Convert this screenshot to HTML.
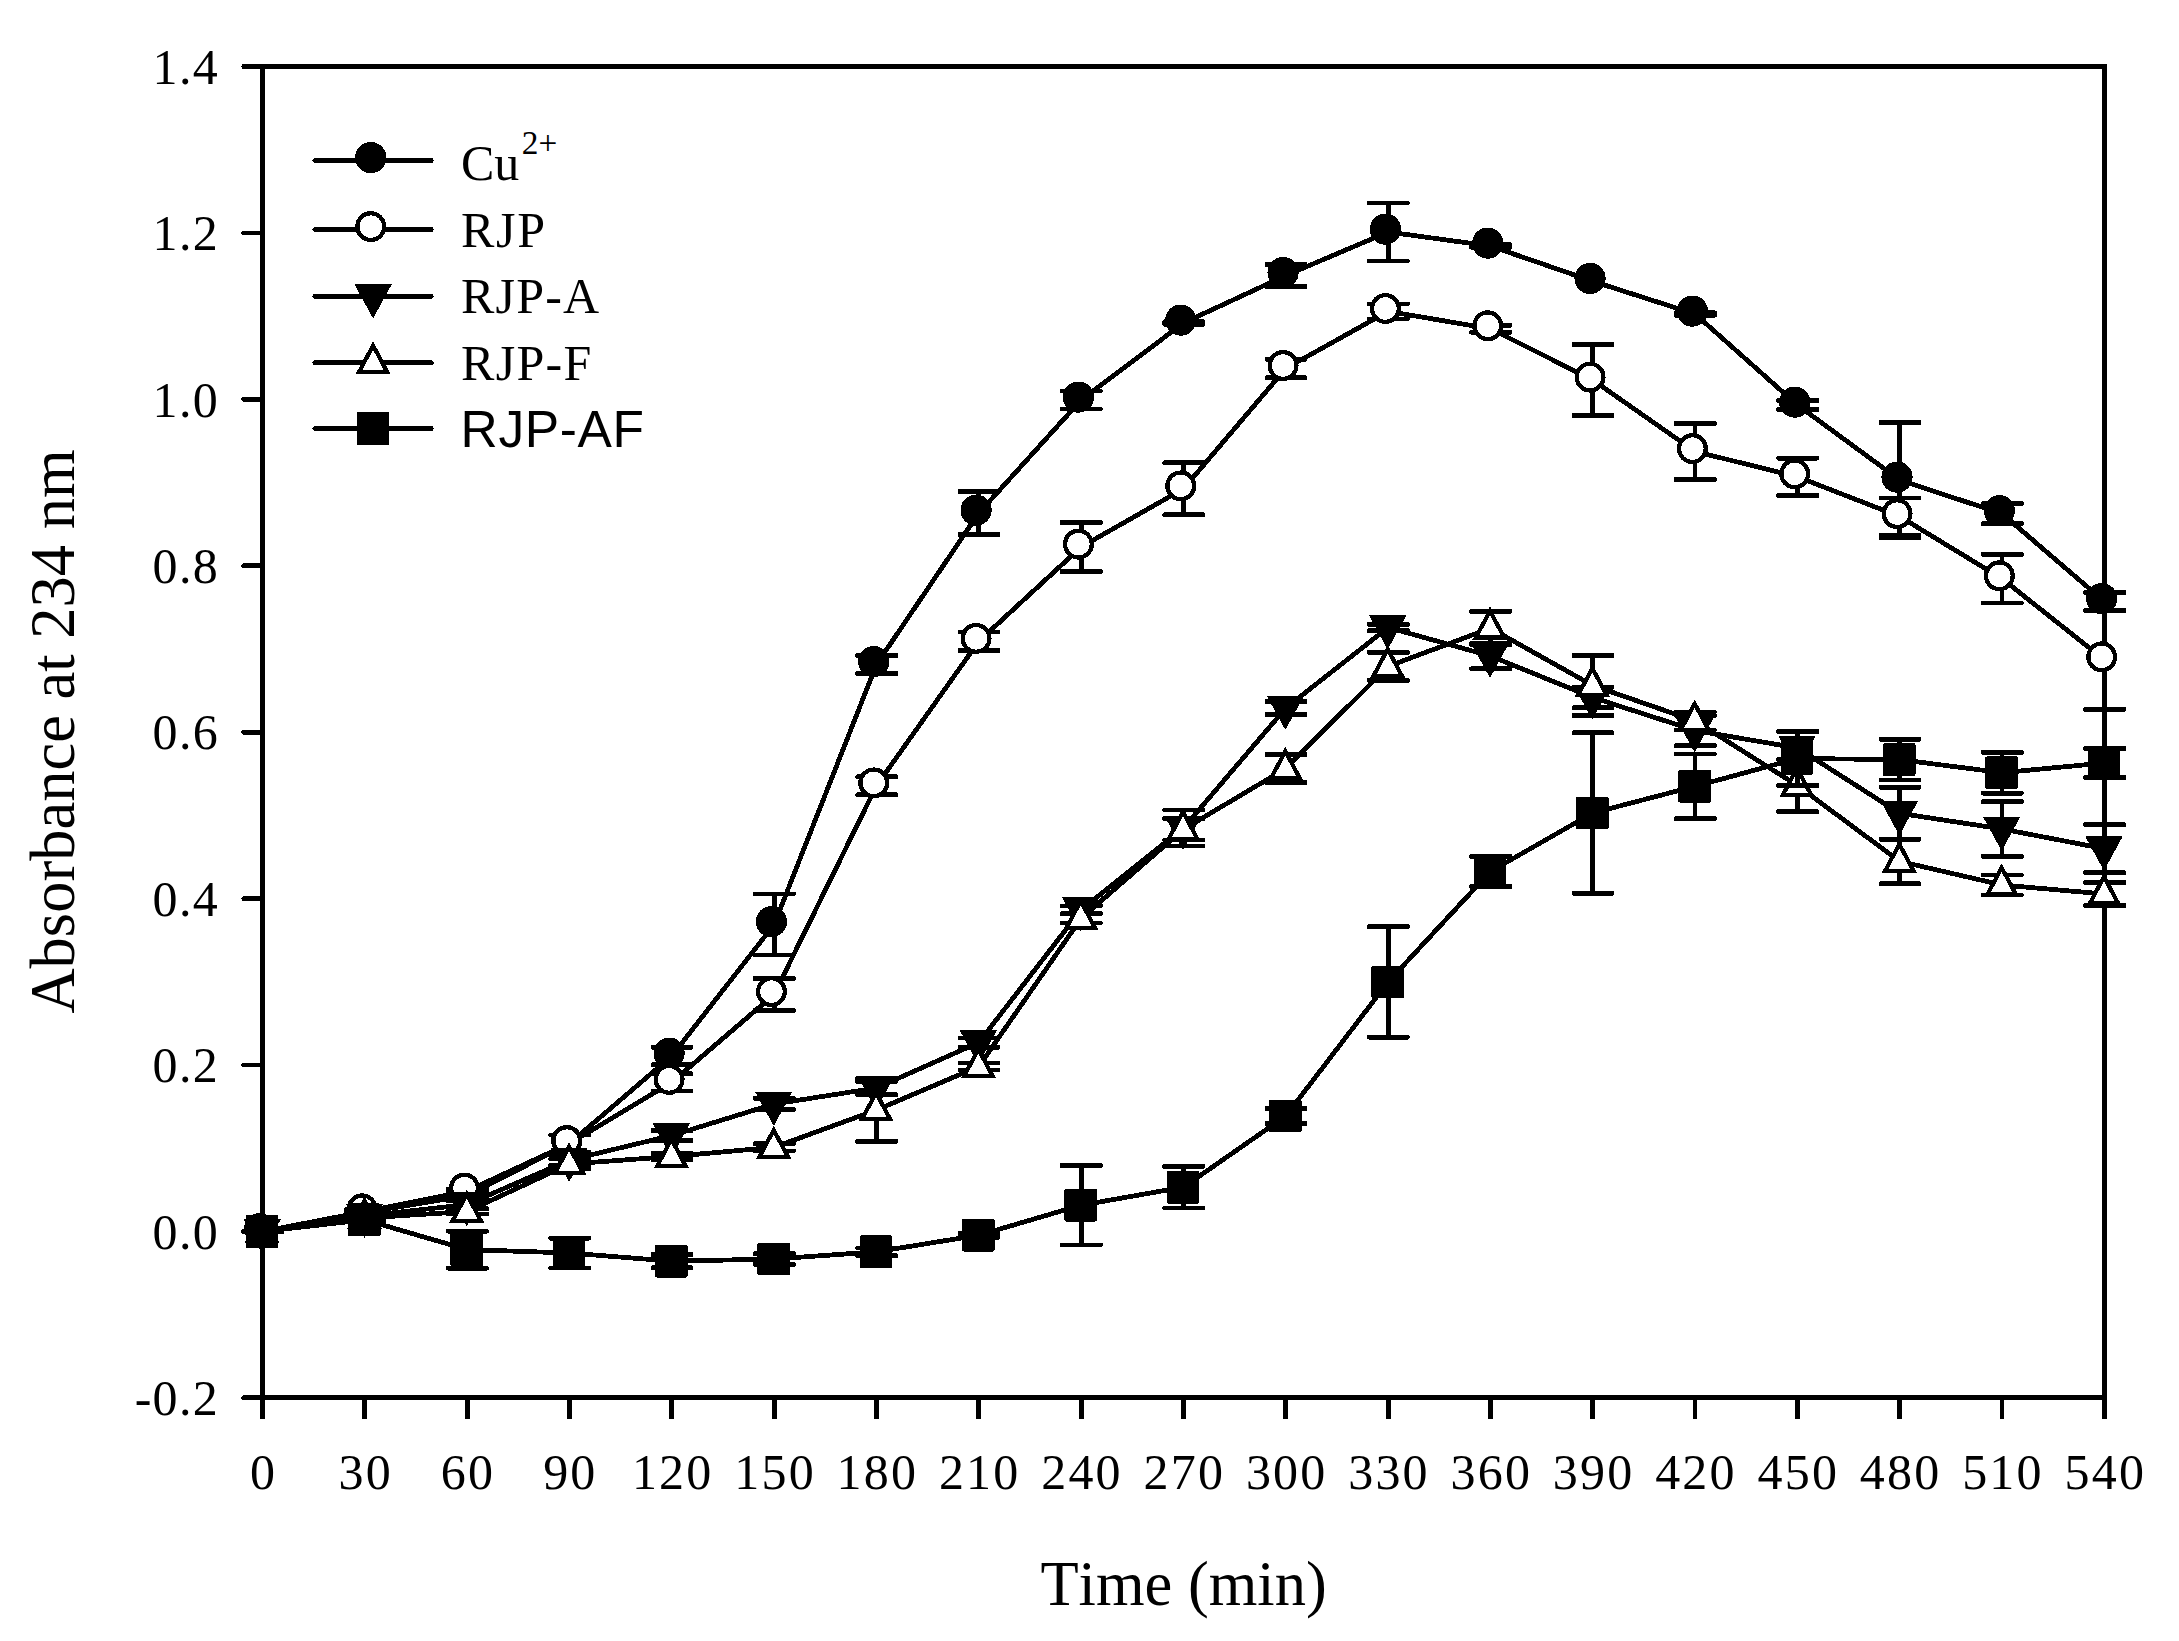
<!DOCTYPE html>
<html lang="en"><head><meta charset="utf-8"><title>Absorbance at 234 nm vs Time</title>
<style>html,body{margin:0;padding:0;background:#fff}svg{display:block}</style></head>
<body>
<svg width="2179" height="1641" viewBox="0 0 2179 1641">
<rect width="2179" height="1641" fill="#fff"/>
<g shape-rendering="crispEdges" fill="#000" font-family="'Liberation Serif', serif" style="font-kerning:none">
<g stroke="#000" stroke-width="4.8" fill="none" stroke-linecap="round">
<path d="M262.5 66.5 V1397.8 M262.5 66.5 H2104.4 M2104.4 66.5 V1397.8 M262.5 1397.8 H2104.4" stroke-linecap="square"/>
<line x1="243.6" y1="66.5" x2="262.5" y2="66.5"/>
<line x1="243.6" y1="232.91" x2="262.5" y2="232.91"/>
<line x1="243.6" y1="399.32" x2="262.5" y2="399.32"/>
<line x1="243.6" y1="565.74" x2="262.5" y2="565.74"/>
<line x1="243.6" y1="732.15" x2="262.5" y2="732.15"/>
<line x1="243.6" y1="898.56" x2="262.5" y2="898.56"/>
<line x1="243.6" y1="1064.97" x2="262.5" y2="1064.97"/>
<line x1="243.6" y1="1231.39" x2="262.5" y2="1231.39"/>
<line x1="243.6" y1="1397.8" x2="262.5" y2="1397.8"/>
<line x1="262.5" y1="1397.8" x2="262.5" y2="1418.6" stroke-linecap="butt"/>
<line x1="364.83" y1="1397.8" x2="364.83" y2="1418.6" stroke-linecap="butt"/>
<line x1="467.16" y1="1397.8" x2="467.16" y2="1418.6" stroke-linecap="butt"/>
<line x1="569.48" y1="1397.8" x2="569.48" y2="1418.6" stroke-linecap="butt"/>
<line x1="671.81" y1="1397.8" x2="671.81" y2="1418.6" stroke-linecap="butt"/>
<line x1="774.14" y1="1397.8" x2="774.14" y2="1418.6" stroke-linecap="butt"/>
<line x1="876.47" y1="1397.8" x2="876.47" y2="1418.6" stroke-linecap="butt"/>
<line x1="978.79" y1="1397.8" x2="978.79" y2="1418.6" stroke-linecap="butt"/>
<line x1="1081.12" y1="1397.8" x2="1081.12" y2="1418.6" stroke-linecap="butt"/>
<line x1="1183.45" y1="1397.8" x2="1183.45" y2="1418.6" stroke-linecap="butt"/>
<line x1="1285.78" y1="1397.8" x2="1285.78" y2="1418.6" stroke-linecap="butt"/>
<line x1="1388.11" y1="1397.8" x2="1388.11" y2="1418.6" stroke-linecap="butt"/>
<line x1="1490.43" y1="1397.8" x2="1490.43" y2="1418.6" stroke-linecap="butt"/>
<line x1="1592.76" y1="1397.8" x2="1592.76" y2="1418.6" stroke-linecap="butt"/>
<line x1="1695.09" y1="1397.8" x2="1695.09" y2="1418.6" stroke-linecap="butt"/>
<line x1="1797.42" y1="1397.8" x2="1797.42" y2="1418.6" stroke-linecap="butt"/>
<line x1="1899.74" y1="1397.8" x2="1899.74" y2="1418.6" stroke-linecap="butt"/>
<line x1="2002.07" y1="1397.8" x2="2002.07" y2="1418.6" stroke-linecap="butt"/>
<line x1="2104.4" y1="1397.8" x2="2104.4" y2="1418.6" stroke-linecap="butt"/>
</g>
<polyline points="262.5,1231.5 364.83,1212.5 467.16,1195.5 569.48,1143.5 671.81,1056 774.14,924.5 876.47,664.5 978.79,513.05 1081.12,400 1183.45,323 1285.78,275.5 1388.11,232 1490.43,246 1592.76,281.3 1695.09,314 1797.42,405 1899.74,480 2002.07,513.7 2104.4,601.5" fill="none" stroke="#000" stroke-width="4.8" stroke-linejoin="round"/>
<rect x="241.4" y="1229.1" width="42.7" height="4.8" rx="1.6"/>
<rect x="362.43" y="1210.5" width="4.8" height="4"/>
<rect x="343.73" y="1208.1" width="42.7" height="4.8" rx="1.6"/>
<rect x="343.73" y="1212.1" width="42.7" height="4.8" rx="1.6"/>
<rect x="464.76" y="1193.5" width="4.8" height="4"/>
<rect x="446.06" y="1191.1" width="42.7" height="4.8" rx="1.6"/>
<rect x="446.06" y="1195.1" width="42.7" height="4.8" rx="1.6"/>
<rect x="567.08" y="1134.9" width="4.8" height="17.2"/>
<rect x="548.38" y="1132.5" width="42.7" height="4.8" rx="1.6"/>
<rect x="548.38" y="1149.7" width="42.7" height="4.8" rx="1.6"/>
<rect x="669.41" y="1047.3" width="4.8" height="17.4"/>
<rect x="650.71" y="1044.9" width="42.7" height="4.8" rx="1.6"/>
<rect x="650.71" y="1062.3" width="42.7" height="4.8" rx="1.6"/>
<rect x="771.74" y="894" width="4.8" height="61"/>
<rect x="753.04" y="891.6" width="42.7" height="4.8" rx="1.6"/>
<rect x="753.04" y="952.6" width="42.7" height="4.8" rx="1.6"/>
<rect x="874.07" y="655.5" width="4.8" height="18"/>
<rect x="855.37" y="653.1" width="42.7" height="4.8" rx="1.6"/>
<rect x="855.37" y="671.1" width="42.7" height="4.8" rx="1.6"/>
<rect x="976.39" y="491.6" width="4.8" height="42.9"/>
<rect x="957.69" y="489.2" width="42.7" height="4.8" rx="1.6"/>
<rect x="957.69" y="532.1" width="42.7" height="4.8" rx="1.6"/>
<rect x="1078.72" y="391" width="4.8" height="18"/>
<rect x="1060.02" y="388.6" width="42.7" height="4.8" rx="1.6"/>
<rect x="1060.02" y="406.6" width="42.7" height="4.8" rx="1.6"/>
<rect x="1181.05" y="321.8" width="4.8" height="2.4"/>
<rect x="1162.35" y="319.4" width="42.7" height="4.8" rx="1.6"/>
<rect x="1162.35" y="321.8" width="42.7" height="4.8" rx="1.6"/>
<rect x="1283.38" y="264.5" width="4.8" height="22"/>
<rect x="1264.68" y="262.1" width="42.7" height="4.8" rx="1.6"/>
<rect x="1264.68" y="284.1" width="42.7" height="4.8" rx="1.6"/>
<rect x="1385.71" y="203" width="4.8" height="58"/>
<rect x="1367.01" y="200.6" width="42.7" height="4.8" rx="1.6"/>
<rect x="1367.01" y="258.6" width="42.7" height="4.8" rx="1.6"/>
<rect x="1488.03" y="244.8" width="4.8" height="2.4"/>
<rect x="1469.33" y="242.4" width="42.7" height="4.8" rx="1.6"/>
<rect x="1469.33" y="244.8" width="42.7" height="4.8" rx="1.6"/>
<rect x="1692.69" y="312.8" width="4.8" height="2.4"/>
<rect x="1673.99" y="310.4" width="42.7" height="4.8" rx="1.6"/>
<rect x="1673.99" y="312.8" width="42.7" height="4.8" rx="1.6"/>
<rect x="1795.02" y="400.5" width="4.8" height="9"/>
<rect x="1776.32" y="398.1" width="42.7" height="4.8" rx="1.6"/>
<rect x="1776.32" y="407.1" width="42.7" height="4.8" rx="1.6"/>
<rect x="1897.34" y="422.6" width="4.8" height="114.8"/>
<rect x="1878.64" y="420.2" width="42.7" height="4.8" rx="1.6"/>
<rect x="1878.64" y="535" width="42.7" height="4.8" rx="1.6"/>
<rect x="1999.67" y="503.7" width="4.8" height="20"/>
<rect x="1980.97" y="501.3" width="42.7" height="4.8" rx="1.6"/>
<rect x="1980.97" y="521.3" width="42.7" height="4.8" rx="1.6"/>
<rect x="2102" y="592.5" width="4.8" height="18"/>
<rect x="2083.3" y="590.1" width="42.7" height="4.8" rx="1.6"/>
<rect x="2083.3" y="608.1" width="42.7" height="4.8" rx="1.6"/>
<circle cx="259.8" cy="1228.6" r="15.6"/>
<circle cx="362.13" cy="1209.6" r="15.6"/>
<circle cx="464.46" cy="1192.6" r="15.6"/>
<circle cx="566.78" cy="1140.6" r="15.6"/>
<circle cx="669.11" cy="1053.1" r="15.6"/>
<circle cx="771.44" cy="921.6" r="15.6"/>
<circle cx="873.77" cy="661.6" r="15.6"/>
<circle cx="976.09" cy="510.15" r="15.6"/>
<circle cx="1078.42" cy="397.1" r="15.6"/>
<circle cx="1180.75" cy="320.1" r="15.6"/>
<circle cx="1283.08" cy="272.6" r="15.6"/>
<circle cx="1385.41" cy="229.1" r="15.6"/>
<circle cx="1487.73" cy="243.1" r="15.6"/>
<circle cx="1590.06" cy="278.4" r="15.6"/>
<circle cx="1692.39" cy="311.1" r="15.6"/>
<circle cx="1794.72" cy="402.1" r="15.6"/>
<circle cx="1897.04" cy="477.1" r="15.6"/>
<circle cx="1999.37" cy="510.8" r="15.6"/>
<circle cx="2101.7" cy="598.6" r="15.6"/>
<polyline points="262.5,1231.5 364.83,1211.7 467.16,1191 569.48,1143.5 671.81,1082.3 774.14,994.5 876.47,785.8 978.79,641.3 1081.12,547 1183.45,488.8 1285.78,368.4 1388.11,311.4 1490.43,328.7 1592.76,380 1695.09,451.5 1797.42,476.8 1899.74,516.5 2002.07,578.7 2104.4,659.8" fill="none" stroke="#000" stroke-width="4.8" stroke-linejoin="round"/>
<rect x="241.4" y="1229.1" width="42.7" height="4.8" rx="1.6"/>
<rect x="362.43" y="1209.7" width="4.8" height="4"/>
<rect x="343.73" y="1207.3" width="42.7" height="4.8" rx="1.6"/>
<rect x="343.73" y="1211.3" width="42.7" height="4.8" rx="1.6"/>
<rect x="464.76" y="1189" width="4.8" height="4"/>
<rect x="446.06" y="1186.6" width="42.7" height="4.8" rx="1.6"/>
<rect x="446.06" y="1190.6" width="42.7" height="4.8" rx="1.6"/>
<rect x="567.08" y="1134.9" width="4.8" height="17.2"/>
<rect x="548.38" y="1132.5" width="42.7" height="4.8" rx="1.6"/>
<rect x="548.38" y="1149.7" width="42.7" height="4.8" rx="1.6"/>
<rect x="669.41" y="1073.7" width="4.8" height="17.2"/>
<rect x="650.71" y="1071.3" width="42.7" height="4.8" rx="1.6"/>
<rect x="650.71" y="1088.5" width="42.7" height="4.8" rx="1.6"/>
<rect x="771.74" y="978.5" width="4.8" height="32"/>
<rect x="753.04" y="976.1" width="42.7" height="4.8" rx="1.6"/>
<rect x="753.04" y="1008.1" width="42.7" height="4.8" rx="1.6"/>
<rect x="874.07" y="776.8" width="4.8" height="18"/>
<rect x="855.37" y="774.4" width="42.7" height="4.8" rx="1.6"/>
<rect x="855.37" y="792.4" width="42.7" height="4.8" rx="1.6"/>
<rect x="976.39" y="632" width="4.8" height="18.6"/>
<rect x="957.69" y="629.6" width="42.7" height="4.8" rx="1.6"/>
<rect x="957.69" y="648.2" width="42.7" height="4.8" rx="1.6"/>
<rect x="1078.72" y="522.5" width="4.8" height="49"/>
<rect x="1060.02" y="520.1" width="42.7" height="4.8" rx="1.6"/>
<rect x="1060.02" y="569.1" width="42.7" height="4.8" rx="1.6"/>
<rect x="1181.05" y="462.8" width="4.8" height="52"/>
<rect x="1162.35" y="460.4" width="42.7" height="4.8" rx="1.6"/>
<rect x="1162.35" y="512.4" width="42.7" height="4.8" rx="1.6"/>
<rect x="1283.38" y="359.1" width="4.8" height="18.6"/>
<rect x="1264.68" y="356.7" width="42.7" height="4.8" rx="1.6"/>
<rect x="1264.68" y="375.3" width="42.7" height="4.8" rx="1.6"/>
<rect x="1385.71" y="303.9" width="4.8" height="15"/>
<rect x="1367.01" y="301.5" width="42.7" height="4.8" rx="1.6"/>
<rect x="1367.01" y="316.5" width="42.7" height="4.8" rx="1.6"/>
<rect x="1488.03" y="325.2" width="4.8" height="7"/>
<rect x="1469.33" y="322.8" width="42.7" height="4.8" rx="1.6"/>
<rect x="1469.33" y="329.8" width="42.7" height="4.8" rx="1.6"/>
<rect x="1590.36" y="344.5" width="4.8" height="71"/>
<rect x="1571.66" y="342.1" width="42.7" height="4.8" rx="1.6"/>
<rect x="1571.66" y="413.1" width="42.7" height="4.8" rx="1.6"/>
<rect x="1692.69" y="423.5" width="4.8" height="56"/>
<rect x="1673.99" y="421.1" width="42.7" height="4.8" rx="1.6"/>
<rect x="1673.99" y="477.1" width="42.7" height="4.8" rx="1.6"/>
<rect x="1795.02" y="458.1" width="4.8" height="37.4"/>
<rect x="1776.32" y="455.7" width="42.7" height="4.8" rx="1.6"/>
<rect x="1776.32" y="493.1" width="42.7" height="4.8" rx="1.6"/>
<rect x="1897.34" y="498" width="4.8" height="37"/>
<rect x="1878.64" y="495.6" width="42.7" height="4.8" rx="1.6"/>
<rect x="1878.64" y="532.6" width="42.7" height="4.8" rx="1.6"/>
<rect x="1999.67" y="554.4" width="4.8" height="48.6"/>
<rect x="1980.97" y="552" width="42.7" height="4.8" rx="1.6"/>
<rect x="1980.97" y="600.6" width="42.7" height="4.8" rx="1.6"/>
<rect x="2102" y="610.2" width="4.8" height="99.2"/>
<rect x="2083.3" y="607.8" width="42.7" height="4.8" rx="1.6"/>
<rect x="2083.3" y="707" width="42.7" height="4.8" rx="1.6"/>
<circle cx="259.8" cy="1228.6" r="13.35" fill="#fff" stroke="#000" stroke-width="4.3"/>
<circle cx="362.13" cy="1208.8" r="13.35" fill="#fff" stroke="#000" stroke-width="4.3"/>
<circle cx="464.46" cy="1188.1" r="13.35" fill="#fff" stroke="#000" stroke-width="4.3"/>
<circle cx="566.78" cy="1140.6" r="13.35" fill="#fff" stroke="#000" stroke-width="4.3"/>
<circle cx="669.11" cy="1079.4" r="13.35" fill="#fff" stroke="#000" stroke-width="4.3"/>
<circle cx="771.44" cy="991.6" r="13.35" fill="#fff" stroke="#000" stroke-width="4.3"/>
<circle cx="873.77" cy="782.9" r="13.35" fill="#fff" stroke="#000" stroke-width="4.3"/>
<circle cx="976.09" cy="638.4" r="13.35" fill="#fff" stroke="#000" stroke-width="4.3"/>
<circle cx="1078.42" cy="544.1" r="13.35" fill="#fff" stroke="#000" stroke-width="4.3"/>
<circle cx="1180.75" cy="485.9" r="13.35" fill="#fff" stroke="#000" stroke-width="4.3"/>
<circle cx="1283.08" cy="365.5" r="13.35" fill="#fff" stroke="#000" stroke-width="4.3"/>
<circle cx="1385.41" cy="308.5" r="13.35" fill="#fff" stroke="#000" stroke-width="4.3"/>
<circle cx="1487.73" cy="325.8" r="13.35" fill="#fff" stroke="#000" stroke-width="4.3"/>
<circle cx="1590.06" cy="377.1" r="13.35" fill="#fff" stroke="#000" stroke-width="4.3"/>
<circle cx="1692.39" cy="448.6" r="13.35" fill="#fff" stroke="#000" stroke-width="4.3"/>
<circle cx="1794.72" cy="473.9" r="13.35" fill="#fff" stroke="#000" stroke-width="4.3"/>
<circle cx="1897.04" cy="513.6" r="13.35" fill="#fff" stroke="#000" stroke-width="4.3"/>
<circle cx="1999.37" cy="575.8" r="13.35" fill="#fff" stroke="#000" stroke-width="4.3"/>
<circle cx="2101.7" cy="656.9" r="13.35" fill="#fff" stroke="#000" stroke-width="4.3"/>
<polyline points="262.5,1231.5 364.83,1216 467.16,1204.5 569.48,1160 671.81,1135.5 774.14,1104 876.47,1088 978.79,1042.5 1081.12,909.8 1183.45,828 1285.78,708 1388.11,627.5 1490.43,656 1592.76,697.5 1695.09,730.5 1797.42,748 1899.74,813.3 2002.07,829 2104.4,848.7" fill="none" stroke="#000" stroke-width="4.8" stroke-linejoin="round"/>
<rect x="241.4" y="1229.1" width="42.7" height="4.8" rx="1.6"/>
<rect x="362.43" y="1214" width="4.8" height="4"/>
<rect x="343.73" y="1211.6" width="42.7" height="4.8" rx="1.6"/>
<rect x="343.73" y="1215.6" width="42.7" height="4.8" rx="1.6"/>
<rect x="464.76" y="1200.5" width="4.8" height="8"/>
<rect x="446.06" y="1198.1" width="42.7" height="4.8" rx="1.6"/>
<rect x="446.06" y="1206.1" width="42.7" height="4.8" rx="1.6"/>
<rect x="567.08" y="1155" width="4.8" height="10"/>
<rect x="548.38" y="1152.6" width="42.7" height="4.8" rx="1.6"/>
<rect x="548.38" y="1162.6" width="42.7" height="4.8" rx="1.6"/>
<rect x="669.41" y="1130.5" width="4.8" height="10"/>
<rect x="650.71" y="1128.1" width="42.7" height="4.8" rx="1.6"/>
<rect x="650.71" y="1138.1" width="42.7" height="4.8" rx="1.6"/>
<rect x="771.74" y="1098.3" width="4.8" height="11.4"/>
<rect x="753.04" y="1095.9" width="42.7" height="4.8" rx="1.6"/>
<rect x="753.04" y="1107.3" width="42.7" height="4.8" rx="1.6"/>
<rect x="874.07" y="1081.4" width="4.8" height="13.2"/>
<rect x="855.37" y="1079" width="42.7" height="4.8" rx="1.6"/>
<rect x="855.37" y="1092.2" width="42.7" height="4.8" rx="1.6"/>
<rect x="976.39" y="1037.9" width="4.8" height="9.2"/>
<rect x="957.69" y="1035.5" width="42.7" height="4.8" rx="1.6"/>
<rect x="957.69" y="1044.7" width="42.7" height="4.8" rx="1.6"/>
<rect x="1078.72" y="905.9" width="4.8" height="7.8"/>
<rect x="1060.02" y="903.5" width="42.7" height="4.8" rx="1.6"/>
<rect x="1060.02" y="911.3" width="42.7" height="4.8" rx="1.6"/>
<rect x="1181.05" y="810" width="4.8" height="36"/>
<rect x="1162.35" y="807.6" width="42.7" height="4.8" rx="1.6"/>
<rect x="1162.35" y="843.6" width="42.7" height="4.8" rx="1.6"/>
<rect x="1283.38" y="701.5" width="4.8" height="13"/>
<rect x="1264.68" y="699.1" width="42.7" height="4.8" rx="1.6"/>
<rect x="1264.68" y="712.1" width="42.7" height="4.8" rx="1.6"/>
<rect x="1385.71" y="624.3" width="4.8" height="6.4"/>
<rect x="1367.01" y="621.9" width="42.7" height="4.8" rx="1.6"/>
<rect x="1367.01" y="628.3" width="42.7" height="4.8" rx="1.6"/>
<rect x="1488.03" y="643.2" width="4.8" height="25.6"/>
<rect x="1469.33" y="640.8" width="42.7" height="4.8" rx="1.6"/>
<rect x="1469.33" y="666.4" width="42.7" height="4.8" rx="1.6"/>
<rect x="1590.36" y="687.2" width="4.8" height="20.6"/>
<rect x="1571.66" y="684.8" width="42.7" height="4.8" rx="1.6"/>
<rect x="1571.66" y="705.4" width="42.7" height="4.8" rx="1.6"/>
<rect x="1692.69" y="715.3" width="4.8" height="30.4"/>
<rect x="1673.99" y="712.9" width="42.7" height="4.8" rx="1.6"/>
<rect x="1673.99" y="743.3" width="42.7" height="4.8" rx="1.6"/>
<rect x="1897.34" y="787.3" width="4.8" height="52"/>
<rect x="1878.64" y="784.9" width="42.7" height="4.8" rx="1.6"/>
<rect x="1878.64" y="836.9" width="42.7" height="4.8" rx="1.6"/>
<rect x="1999.67" y="801.6" width="4.8" height="54.8"/>
<rect x="1980.97" y="799.2" width="42.7" height="4.8" rx="1.6"/>
<rect x="1980.97" y="854" width="42.7" height="4.8" rx="1.6"/>
<rect x="2102" y="824.7" width="4.8" height="48"/>
<rect x="2083.3" y="822.3" width="42.7" height="4.8" rx="1.6"/>
<rect x="2083.3" y="870.3" width="42.7" height="4.8" rx="1.6"/>
<polygon points="244.1,1219.5 280.1,1219.5 262.1,1252.5" stroke="#000" stroke-width="1" stroke-linejoin="round"/>
<polygon points="346.43,1204 382.43,1204 364.43,1237" stroke="#000" stroke-width="1" stroke-linejoin="round"/>
<polygon points="448.76,1192.5 484.76,1192.5 466.76,1225.5" stroke="#000" stroke-width="1" stroke-linejoin="round"/>
<polygon points="551.08,1148 587.08,1148 569.08,1181" stroke="#000" stroke-width="1" stroke-linejoin="round"/>
<polygon points="653.41,1123.5 689.41,1123.5 671.41,1156.5" stroke="#000" stroke-width="1" stroke-linejoin="round"/>
<polygon points="755.74,1092 791.74,1092 773.74,1125" stroke="#000" stroke-width="1" stroke-linejoin="round"/>
<polygon points="858.07,1076 894.07,1076 876.07,1109" stroke="#000" stroke-width="1" stroke-linejoin="round"/>
<polygon points="960.39,1030.5 996.39,1030.5 978.39,1063.5" stroke="#000" stroke-width="1" stroke-linejoin="round"/>
<polygon points="1062.72,897.8 1098.72,897.8 1080.72,930.8" stroke="#000" stroke-width="1" stroke-linejoin="round"/>
<polygon points="1165.05,816 1201.05,816 1183.05,849" stroke="#000" stroke-width="1" stroke-linejoin="round"/>
<polygon points="1267.38,696 1303.38,696 1285.38,729" stroke="#000" stroke-width="1" stroke-linejoin="round"/>
<polygon points="1369.71,615.5 1405.71,615.5 1387.71,648.5" stroke="#000" stroke-width="1" stroke-linejoin="round"/>
<polygon points="1472.03,644 1508.03,644 1490.03,677" stroke="#000" stroke-width="1" stroke-linejoin="round"/>
<polygon points="1574.36,685.5 1610.36,685.5 1592.36,718.5" stroke="#000" stroke-width="1" stroke-linejoin="round"/>
<polygon points="1676.69,718.5 1712.69,718.5 1694.69,751.5" stroke="#000" stroke-width="1" stroke-linejoin="round"/>
<polygon points="1779.02,736 1815.02,736 1797.02,769" stroke="#000" stroke-width="1" stroke-linejoin="round"/>
<polygon points="1881.34,801.3 1917.34,801.3 1899.34,834.3" stroke="#000" stroke-width="1" stroke-linejoin="round"/>
<polygon points="1983.67,817 2019.67,817 2001.67,850" stroke="#000" stroke-width="1" stroke-linejoin="round"/>
<polygon points="2086,836.7 2122,836.7 2104,869.7" stroke="#000" stroke-width="1" stroke-linejoin="round"/>
<polyline points="262.5,1231.5 364.83,1218 467.16,1211.5 569.48,1164 671.81,1156.5 774.14,1147.3 876.47,1110 978.79,1066.5 1081.12,918.3 1183.45,829.3 1285.78,768.5 1388.11,666.4 1490.43,628.2 1592.76,685.5 1695.09,721 1797.42,785.5 1899.74,861.4 2002.07,885 2104.4,894" fill="none" stroke="#000" stroke-width="4.8" stroke-linejoin="round"/>
<rect x="241.4" y="1229.1" width="42.7" height="4.8" rx="1.6"/>
<rect x="362.43" y="1216" width="4.8" height="4"/>
<rect x="343.73" y="1213.6" width="42.7" height="4.8" rx="1.6"/>
<rect x="343.73" y="1217.6" width="42.7" height="4.8" rx="1.6"/>
<rect x="464.76" y="1209" width="4.8" height="5"/>
<rect x="446.06" y="1206.6" width="42.7" height="4.8" rx="1.6"/>
<rect x="446.06" y="1211.6" width="42.7" height="4.8" rx="1.6"/>
<rect x="567.08" y="1159" width="4.8" height="10"/>
<rect x="548.38" y="1156.6" width="42.7" height="4.8" rx="1.6"/>
<rect x="548.38" y="1166.6" width="42.7" height="4.8" rx="1.6"/>
<rect x="669.41" y="1153.5" width="4.8" height="6"/>
<rect x="650.71" y="1151.1" width="42.7" height="4.8" rx="1.6"/>
<rect x="650.71" y="1157.1" width="42.7" height="4.8" rx="1.6"/>
<rect x="771.74" y="1143.6" width="4.8" height="7.4"/>
<rect x="753.04" y="1141.2" width="42.7" height="4.8" rx="1.6"/>
<rect x="753.04" y="1148.6" width="42.7" height="4.8" rx="1.6"/>
<rect x="874.07" y="1078.7" width="4.8" height="62.6"/>
<rect x="855.37" y="1076.3" width="42.7" height="4.8" rx="1.6"/>
<rect x="855.37" y="1138.9" width="42.7" height="4.8" rx="1.6"/>
<rect x="976.39" y="1063" width="4.8" height="7"/>
<rect x="957.69" y="1060.6" width="42.7" height="4.8" rx="1.6"/>
<rect x="957.69" y="1067.6" width="42.7" height="4.8" rx="1.6"/>
<rect x="1078.72" y="913.6" width="4.8" height="9.4"/>
<rect x="1060.02" y="911.2" width="42.7" height="4.8" rx="1.6"/>
<rect x="1060.02" y="920.6" width="42.7" height="4.8" rx="1.6"/>
<rect x="1181.05" y="818.7" width="4.8" height="21.2"/>
<rect x="1162.35" y="816.3" width="42.7" height="4.8" rx="1.6"/>
<rect x="1162.35" y="837.5" width="42.7" height="4.8" rx="1.6"/>
<rect x="1283.38" y="754.5" width="4.8" height="28"/>
<rect x="1264.68" y="752.1" width="42.7" height="4.8" rx="1.6"/>
<rect x="1264.68" y="780.1" width="42.7" height="4.8" rx="1.6"/>
<rect x="1385.71" y="652.4" width="4.8" height="28"/>
<rect x="1367.01" y="650" width="42.7" height="4.8" rx="1.6"/>
<rect x="1367.01" y="678" width="42.7" height="4.8" rx="1.6"/>
<rect x="1488.03" y="611.4" width="4.8" height="33.6"/>
<rect x="1469.33" y="609" width="42.7" height="4.8" rx="1.6"/>
<rect x="1469.33" y="642.6" width="42.7" height="4.8" rx="1.6"/>
<rect x="1590.36" y="655.5" width="4.8" height="60"/>
<rect x="1571.66" y="653.1" width="42.7" height="4.8" rx="1.6"/>
<rect x="1571.66" y="713.1" width="42.7" height="4.8" rx="1.6"/>
<rect x="1692.69" y="712" width="4.8" height="18"/>
<rect x="1673.99" y="709.6" width="42.7" height="4.8" rx="1.6"/>
<rect x="1673.99" y="727.6" width="42.7" height="4.8" rx="1.6"/>
<rect x="1795.02" y="759.3" width="4.8" height="52.4"/>
<rect x="1776.32" y="756.9" width="42.7" height="4.8" rx="1.6"/>
<rect x="1776.32" y="809.3" width="42.7" height="4.8" rx="1.6"/>
<rect x="1897.34" y="839" width="4.8" height="44.8"/>
<rect x="1878.64" y="836.6" width="42.7" height="4.8" rx="1.6"/>
<rect x="1878.64" y="881.4" width="42.7" height="4.8" rx="1.6"/>
<rect x="1999.67" y="875" width="4.8" height="20"/>
<rect x="1980.97" y="872.6" width="42.7" height="4.8" rx="1.6"/>
<rect x="1980.97" y="892.6" width="42.7" height="4.8" rx="1.6"/>
<rect x="2102" y="882.5" width="4.8" height="23"/>
<rect x="2083.3" y="880.1" width="42.7" height="4.8" rx="1.6"/>
<rect x="2083.3" y="903.1" width="42.7" height="4.8" rx="1.6"/>
<polygon points="244.5,1242.9 279.7,1242.9 262.1,1209.8"/><polygon points="251.41,1238.75 272.79,1238.75 262.1,1218.64" fill="#fff"/>
<polygon points="346.83,1229.4 382.03,1229.4 364.43,1196.3"/><polygon points="353.73,1225.25 375.12,1225.25 364.43,1205.14" fill="#fff"/>
<polygon points="449.16,1222.9 484.36,1222.9 466.76,1189.8"/><polygon points="456.06,1218.75 477.45,1218.75 466.76,1198.64" fill="#fff"/>
<polygon points="551.48,1175.4 586.68,1175.4 569.08,1142.3"/><polygon points="558.39,1171.25 579.78,1171.25 569.08,1151.14" fill="#fff"/>
<polygon points="653.81,1167.9 689.01,1167.9 671.41,1134.8"/><polygon points="660.72,1163.75 682.1,1163.75 671.41,1143.64" fill="#fff"/>
<polygon points="756.14,1158.7 791.34,1158.7 773.74,1125.6"/><polygon points="763.05,1154.55 784.43,1154.55 773.74,1134.44" fill="#fff"/>
<polygon points="858.47,1121.4 893.67,1121.4 876.07,1088.3"/><polygon points="865.37,1117.25 886.76,1117.25 876.07,1097.14" fill="#fff"/>
<polygon points="960.79,1077.9 995.99,1077.9 978.39,1044.8"/><polygon points="967.7,1073.75 989.09,1073.75 978.39,1053.64" fill="#fff"/>
<polygon points="1063.12,929.7 1098.32,929.7 1080.72,896.6"/><polygon points="1070.03,925.55 1091.42,925.55 1080.72,905.44" fill="#fff"/>
<polygon points="1165.45,840.7 1200.65,840.7 1183.05,807.6"/><polygon points="1172.36,836.55 1193.74,836.55 1183.05,816.44" fill="#fff"/>
<polygon points="1267.78,779.9 1302.98,779.9 1285.38,746.8"/><polygon points="1274.68,775.75 1296.07,775.75 1285.38,755.64" fill="#fff"/>
<polygon points="1370.11,677.8 1405.31,677.8 1387.71,644.7"/><polygon points="1377.01,673.65 1398.4,673.65 1387.71,653.54" fill="#fff"/>
<polygon points="1472.43,639.6 1507.63,639.6 1490.03,606.5"/><polygon points="1479.34,635.45 1500.73,635.45 1490.03,615.34" fill="#fff"/>
<polygon points="1574.76,696.9 1609.96,696.9 1592.36,663.8"/><polygon points="1581.67,692.75 1603.05,692.75 1592.36,672.64" fill="#fff"/>
<polygon points="1677.09,732.4 1712.29,732.4 1694.69,699.3"/><polygon points="1684,728.25 1705.38,728.25 1694.69,708.14" fill="#fff"/>
<polygon points="1779.42,796.9 1814.62,796.9 1797.02,763.8"/><polygon points="1786.32,792.75 1807.71,792.75 1797.02,772.64" fill="#fff"/>
<polygon points="1881.74,872.8 1916.94,872.8 1899.34,839.7"/><polygon points="1888.65,868.65 1910.04,868.65 1899.34,848.54" fill="#fff"/>
<polygon points="1984.07,896.4 2019.27,896.4 2001.67,863.3"/><polygon points="1990.98,892.25 2012.37,892.25 2001.67,872.14" fill="#fff"/>
<polygon points="2086.4,905.4 2121.6,905.4 2104,872.3"/><polygon points="2093.31,901.25 2114.69,901.25 2104,881.14" fill="#fff"/>
<polyline points="262.5,1231.5 364.83,1219.8 467.16,1249.6 569.48,1253 671.81,1261.2 774.14,1259 876.47,1251.8 978.79,1235.2 1081.12,1205.2 1183.45,1187.2 1285.78,1116 1388.11,981.9 1490.43,871.5 1592.76,813 1695.09,786.3 1797.42,758.5 1899.74,759.6 2002.07,772.7 2104.4,763" fill="none" stroke="#000" stroke-width="4.8" stroke-linejoin="round"/>
<rect x="241.4" y="1229.1" width="42.7" height="4.8" rx="1.6"/>
<rect x="362.43" y="1217.8" width="4.8" height="4"/>
<rect x="343.73" y="1215.4" width="42.7" height="4.8" rx="1.6"/>
<rect x="343.73" y="1219.4" width="42.7" height="4.8" rx="1.6"/>
<rect x="464.76" y="1231.1" width="4.8" height="37"/>
<rect x="446.06" y="1228.7" width="42.7" height="4.8" rx="1.6"/>
<rect x="446.06" y="1265.7" width="42.7" height="4.8" rx="1.6"/>
<rect x="567.08" y="1238.1" width="4.8" height="29.8"/>
<rect x="548.38" y="1235.7" width="42.7" height="4.8" rx="1.6"/>
<rect x="548.38" y="1265.5" width="42.7" height="4.8" rx="1.6"/>
<rect x="669.41" y="1254.6" width="4.8" height="13.2"/>
<rect x="650.71" y="1252.2" width="42.7" height="4.8" rx="1.6"/>
<rect x="650.71" y="1265.4" width="42.7" height="4.8" rx="1.6"/>
<rect x="771.74" y="1253.7" width="4.8" height="10.6"/>
<rect x="753.04" y="1251.3" width="42.7" height="4.8" rx="1.6"/>
<rect x="753.04" y="1261.9" width="42.7" height="4.8" rx="1.6"/>
<rect x="874.07" y="1247.9" width="4.8" height="7.8"/>
<rect x="855.37" y="1245.5" width="42.7" height="4.8" rx="1.6"/>
<rect x="855.37" y="1253.3" width="42.7" height="4.8" rx="1.6"/>
<rect x="976.39" y="1233.2" width="4.8" height="4"/>
<rect x="957.69" y="1230.8" width="42.7" height="4.8" rx="1.6"/>
<rect x="957.69" y="1234.8" width="42.7" height="4.8" rx="1.6"/>
<rect x="1078.72" y="1165.5" width="4.8" height="79.4"/>
<rect x="1060.02" y="1163.1" width="42.7" height="4.8" rx="1.6"/>
<rect x="1060.02" y="1242.5" width="42.7" height="4.8" rx="1.6"/>
<rect x="1181.05" y="1166.4" width="4.8" height="41.6"/>
<rect x="1162.35" y="1164" width="42.7" height="4.8" rx="1.6"/>
<rect x="1162.35" y="1205.6" width="42.7" height="4.8" rx="1.6"/>
<rect x="1283.38" y="1108.4" width="4.8" height="15.2"/>
<rect x="1264.68" y="1106" width="42.7" height="4.8" rx="1.6"/>
<rect x="1264.68" y="1121.2" width="42.7" height="4.8" rx="1.6"/>
<rect x="1385.71" y="926.7" width="4.8" height="110.4"/>
<rect x="1367.01" y="924.3" width="42.7" height="4.8" rx="1.6"/>
<rect x="1367.01" y="1034.7" width="42.7" height="4.8" rx="1.6"/>
<rect x="1488.03" y="856.5" width="4.8" height="30"/>
<rect x="1469.33" y="854.1" width="42.7" height="4.8" rx="1.6"/>
<rect x="1469.33" y="884.1" width="42.7" height="4.8" rx="1.6"/>
<rect x="1590.36" y="732.7" width="4.8" height="160.6"/>
<rect x="1571.66" y="730.3" width="42.7" height="4.8" rx="1.6"/>
<rect x="1571.66" y="890.9" width="42.7" height="4.8" rx="1.6"/>
<rect x="1692.69" y="754" width="4.8" height="64.6"/>
<rect x="1673.99" y="751.6" width="42.7" height="4.8" rx="1.6"/>
<rect x="1673.99" y="816.2" width="42.7" height="4.8" rx="1.6"/>
<rect x="1795.02" y="731.5" width="4.8" height="54"/>
<rect x="1776.32" y="729.1" width="42.7" height="4.8" rx="1.6"/>
<rect x="1776.32" y="783.1" width="42.7" height="4.8" rx="1.6"/>
<rect x="1897.34" y="739.2" width="4.8" height="40.8"/>
<rect x="1878.64" y="736.8" width="42.7" height="4.8" rx="1.6"/>
<rect x="1878.64" y="777.6" width="42.7" height="4.8" rx="1.6"/>
<rect x="1999.67" y="752.3" width="4.8" height="40.8"/>
<rect x="1980.97" y="749.9" width="42.7" height="4.8" rx="1.6"/>
<rect x="1980.97" y="790.7" width="42.7" height="4.8" rx="1.6"/>
<rect x="2102" y="748.5" width="4.8" height="29"/>
<rect x="2083.3" y="746.1" width="42.7" height="4.8" rx="1.6"/>
<rect x="2083.3" y="775.1" width="42.7" height="4.8" rx="1.6"/>
<rect x="245.6" y="1215.1" width="32.8" height="32.8" rx="2"/>
<rect x="347.93" y="1203.4" width="32.8" height="32.8" rx="2"/>
<rect x="450.26" y="1233.2" width="32.8" height="32.8" rx="2"/>
<rect x="552.58" y="1236.6" width="32.8" height="32.8" rx="2"/>
<rect x="654.91" y="1244.8" width="32.8" height="32.8" rx="2"/>
<rect x="757.24" y="1242.6" width="32.8" height="32.8" rx="2"/>
<rect x="859.57" y="1235.4" width="32.8" height="32.8" rx="2"/>
<rect x="961.89" y="1218.8" width="32.8" height="32.8" rx="2"/>
<rect x="1064.22" y="1188.8" width="32.8" height="32.8" rx="2"/>
<rect x="1166.55" y="1170.8" width="32.8" height="32.8" rx="2"/>
<rect x="1268.88" y="1099.6" width="32.8" height="32.8" rx="2"/>
<rect x="1371.21" y="965.5" width="32.8" height="32.8" rx="2"/>
<rect x="1473.53" y="855.1" width="32.8" height="32.8" rx="2"/>
<rect x="1575.86" y="796.6" width="32.8" height="32.8" rx="2"/>
<rect x="1678.19" y="769.9" width="32.8" height="32.8" rx="2"/>
<rect x="1780.52" y="742.1" width="32.8" height="32.8" rx="2"/>
<rect x="1882.84" y="743.2" width="32.8" height="32.8" rx="2"/>
<rect x="1985.17" y="756.3" width="32.8" height="32.8" rx="2"/>
<rect x="2087.5" y="746.6" width="32.8" height="32.8" rx="2"/>
<text x="219" y="83.8" font-size="50" text-anchor="end" letter-spacing="1.3">1.4</text>
<text x="219" y="250.21" font-size="50" text-anchor="end" letter-spacing="1.3">1.2</text>
<text x="219" y="416.62" font-size="50" text-anchor="end" letter-spacing="1.3">1.0</text>
<text x="219" y="583.04" font-size="50" text-anchor="end" letter-spacing="1.3">0.8</text>
<text x="219" y="749.45" font-size="50" text-anchor="end" letter-spacing="1.3">0.6</text>
<text x="219" y="915.86" font-size="50" text-anchor="end" letter-spacing="1.3">0.4</text>
<text x="219" y="1082.27" font-size="50" text-anchor="end" letter-spacing="1.3">0.2</text>
<text x="219" y="1248.69" font-size="50" text-anchor="end" letter-spacing="1.3">0.0</text>
<text x="219" y="1415.1" font-size="50" text-anchor="end" letter-spacing="1.3">-0.2</text>
<text x="263.6" y="1488.7" font-size="50" text-anchor="middle" letter-spacing="2.2">0</text>
<text x="365.73" y="1488.7" font-size="50" text-anchor="middle" letter-spacing="2.2">30</text>
<text x="468.06" y="1488.7" font-size="50" text-anchor="middle" letter-spacing="2.2">60</text>
<text x="570.38" y="1488.7" font-size="50" text-anchor="middle" letter-spacing="2.2">90</text>
<text x="672.71" y="1488.7" font-size="50" text-anchor="middle" letter-spacing="2.2">120</text>
<text x="775.04" y="1488.7" font-size="50" text-anchor="middle" letter-spacing="2.2">150</text>
<text x="877.37" y="1488.7" font-size="50" text-anchor="middle" letter-spacing="2.2">180</text>
<text x="979.69" y="1488.7" font-size="50" text-anchor="middle" letter-spacing="2.2">210</text>
<text x="1082.02" y="1488.7" font-size="50" text-anchor="middle" letter-spacing="2.2">240</text>
<text x="1184.35" y="1488.7" font-size="50" text-anchor="middle" letter-spacing="2.2">270</text>
<text x="1286.68" y="1488.7" font-size="50" text-anchor="middle" letter-spacing="2.2">300</text>
<text x="1389.01" y="1488.7" font-size="50" text-anchor="middle" letter-spacing="2.2">330</text>
<text x="1491.33" y="1488.7" font-size="50" text-anchor="middle" letter-spacing="2.2">360</text>
<text x="1593.66" y="1488.7" font-size="50" text-anchor="middle" letter-spacing="2.2">390</text>
<text x="1695.99" y="1488.7" font-size="50" text-anchor="middle" letter-spacing="2.2">420</text>
<text x="1798.32" y="1488.7" font-size="50" text-anchor="middle" letter-spacing="2.2">450</text>
<text x="1900.64" y="1488.7" font-size="50" text-anchor="middle" letter-spacing="2.2">480</text>
<text x="2002.97" y="1488.7" font-size="50" text-anchor="middle" letter-spacing="2.2">510</text>
<text x="2105.3" y="1488.7" font-size="50" text-anchor="middle" letter-spacing="2.2">540</text>
<text x="1183.6" y="1605" font-size="62.5" text-anchor="middle">Time (min)</text>
<text transform="translate(74.2 731.5) rotate(-90)" font-size="62.5" text-anchor="middle">Absorbance at 234 nm</text>
<line x1="314.8" y1="160.5" x2="431.4" y2="160.5" stroke="#000" stroke-width="4.8" stroke-linecap="round"/>
<circle cx="370.8" cy="157.6" r="15.6"/>
<line x1="314.8" y1="229.5" x2="431.4" y2="229.5" stroke="#000" stroke-width="4.8" stroke-linecap="round"/>
<circle cx="370.8" cy="226.6" r="13.35" fill="#fff" stroke="#000" stroke-width="4.3"/>
<line x1="314.8" y1="296.4" x2="431.4" y2="296.4" stroke="#000" stroke-width="4.8" stroke-linecap="round"/>
<polygon points="355.1,284.4 391.1,284.4 373.1,317.4" stroke="#000" stroke-width="1" stroke-linejoin="round"/>
<line x1="314.8" y1="362.8" x2="431.4" y2="362.8" stroke="#000" stroke-width="4.8" stroke-linecap="round"/>
<polygon points="355.5,374.2 390.7,374.2 373.1,341.1"/><polygon points="362.41,370.05 383.79,370.05 373.1,349.94" fill="#fff"/>
<line x1="314.8" y1="428.5" x2="431.4" y2="428.5" stroke="#000" stroke-width="4.8" stroke-linecap="round"/>
<rect x="356.6" y="412.1" width="32.8" height="32.8" rx="2"/>
<text x="461" y="179.8" font-size="50">Cu<tspan font-size="33.3" dx="2.5" dy="-25.9">2+</tspan></text>
<text x="461" y="247.2" font-size="50" letter-spacing="1.7">RJP</text>
<text x="461" y="313" font-size="50" letter-spacing="1.2">RJP-A</text>
<text x="461" y="379.8" font-size="50" letter-spacing="1.3">RJP-F</text>
<text x="460.6" y="446.7" font-size="51.5" letter-spacing="0.6" font-family="'Liberation Sans', sans-serif">RJP-AF</text>
</g></svg>
</body></html>
